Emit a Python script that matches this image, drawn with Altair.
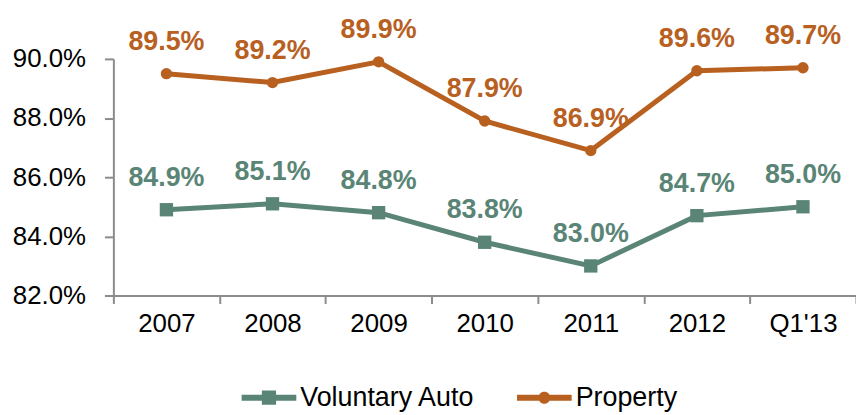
import altair as alt
import pandas as pd

periods = ["2007", "2008", "2009", "2010", "2011", "2012", "Q1'13"]
voluntary_auto = [84.9, 85.1, 84.8, 83.8, 83.0, 84.7, 85.0]
property_vals = [89.5, 89.2, 89.9, 87.9, 86.9, 89.6, 89.7]
series_names = ["Voluntary Auto", "Property"]
series_colors = ["#5A8576", "#B8601F"]
y_ticks = [82, 84, 86, 88, 90]

rows = []
for name, vals in zip(series_names, [voluntary_auto, property_vals]):
    for p, v in zip(periods, vals):
        rows.append({"period": p, "series": name, "value": v})
df = pd.DataFrame(rows)

FONT = "Liberation Sans"
GREY = "#8C8C8C"

SQ_PATH = "M-1,-0.11H1V0.11H-1Z M-0.26,-0.26H0.26V0.26H-0.26Z"
CI_PATH = "M-1,-0.11H1V0.11H-1Z M-0.22,0A0.22,0.22 0 1 1 0.22,0A0.22,0.22 0 1 1 -0.22,0Z"

color_scale = alt.Scale(domain=series_names, range=series_colors)

x_enc = alt.X(
    "period:N",
    sort=periods,
    scale=alt.Scale(type="band", paddingInner=0, paddingOuter=0),
    axis=alt.Axis(
        title=None, labelAngle=0, labelFont=FONT, labelFontSize=26, labelColor="black",
        domainColor=GREY, domainWidth=2, tickColor=GREY, tickWidth=2, tickSize=8,
        tickBand="extent", labelPadding=7,
    ),
)
y_enc = alt.Y(
    "value:Q",
    scale=alt.Scale(domain=[82, 90], nice=False, zero=False),
    axis=alt.Axis(
        title=None, values=y_ticks, grid=False,
        labelExpr="format(datum.value, '.1f') + '%'",
        labelFont=FONT, labelFontSize=26, labelColor="black",
        domainColor=GREY, domainWidth=2, tickColor=GREY, tickWidth=2, tickSize=9,
        labelPadding=19,
    ),
)

legend = alt.Legend(
    title=None, orient="none", legendX=129, legendY=313, direction="horizontal",
    labelFont=FONT, labelFontSize=27, labelColor="black", padding=0, labelLimit=400,
    symbolSize=3025, symbolStrokeWidth=0, symbolOpacity=1, labelOffset=4, columnPadding=42,
)

base = alt.Chart(df).encode(x=x_enc, y=y_enc)
plain_color = alt.Color("series:N", scale=color_scale)

# legend-only layer: draws no marks (all rows filtered out), legend comes from scale domains
legend_layer = base.mark_point(filled=True).encode(
    color=alt.Color("series:N", scale=color_scale, legend=legend),
    shape=alt.Shape("series:N", scale=alt.Scale(domain=series_names, range=[SQ_PATH, CI_PATH]), legend=legend),
).transform_filter(alt.datum.value < 0)

lines = base.mark_line(strokeWidth=5).encode(color=plain_color)
squares = base.mark_square(size=180, opacity=1).encode(color=plain_color).transform_filter(
    alt.datum.series == series_names[0]
)
circles = base.mark_circle(size=130, opacity=1).encode(color=plain_color).transform_filter(
    alt.datum.series == series_names[1]
)
labels = base.mark_text(
    dy=-24, baseline="alphabetic", fontWeight="bold", fontSize=27, font=FONT
).transform_calculate(
    label="format(datum.value, '.1f') + '%'"
).encode(
    text="label:N",
    color=plain_color,
)

chart = alt.layer(legend_layer, lines, squares, circles, labels).properties(
    width=747, height=238,
    autosize=alt.AutoSizeParams(type="none"),
    padding={"left": 106, "top": 50, "right": 0, "bottom": 118},
).configure_view(stroke=None)

chart.save("out.html", embed_options={"renderer": "svg", "actions": False})
